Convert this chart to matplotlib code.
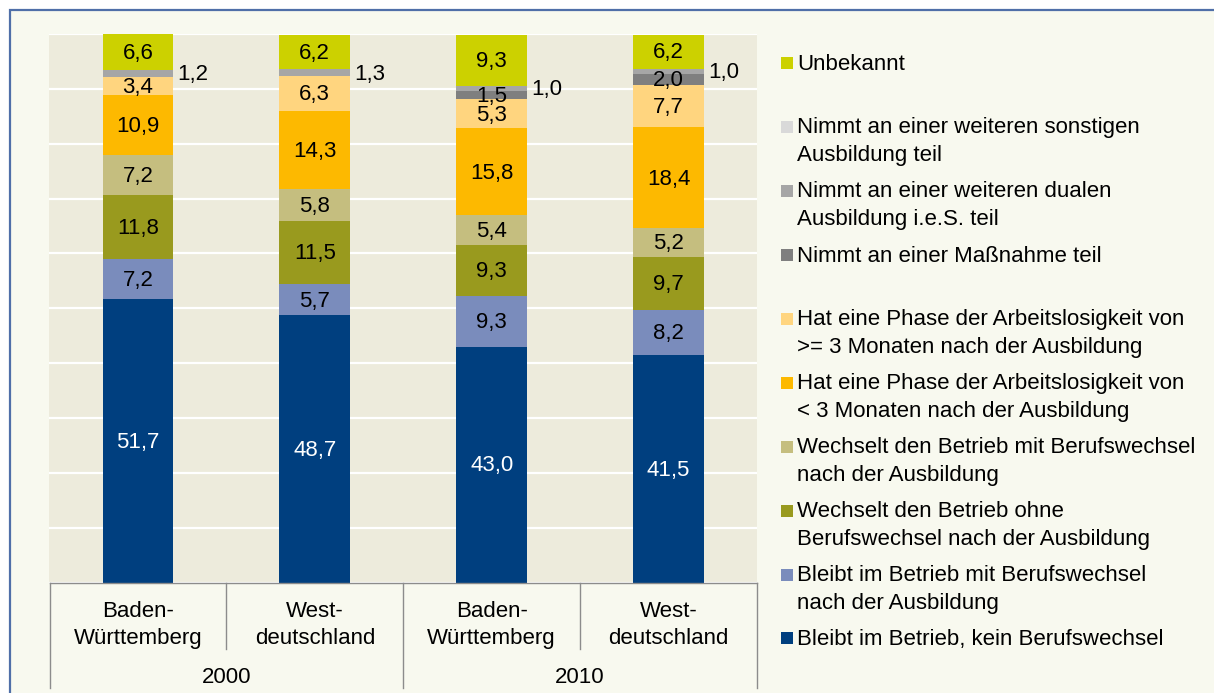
import matplotlib
matplotlib.use("Agg")
import matplotlib.pyplot as plt
from matplotlib.patches import Rectangle

plt.rcParams["font.family"] = ["Liberation Sans", "DejaVu Sans"]

# DATA
regions = ["Baden-\nWürttemberg", "West-\ndeutschland", "Baden-\nWürttemberg", "West-\ndeutschland"]
years = ["2000", "2010"]

bleibt_kein = [51.7, 48.7, 43.0, 41.5]
bleibt_mit = [7.2, 5.7, 9.3, 8.2]
wechselt_ohne = [11.8, 11.5, 9.3, 9.7]
wechselt_mit = [7.2, 5.8, 5.4, 5.2]
arbeitslos_kurz = [10.9, 14.3, 15.8, 18.4]
arbeitslos_lang = [3.4, 6.3, 5.3, 7.7]
massnahme = [0.0, 0.0, 1.5, 2.0]
dual = [1.2, 1.3, 1.0, 1.0]
sonstig = [0.0, 0.0, 0.0, 0.0]
unbekannt = [6.6, 6.2, 9.3, 6.2]

# stacked bottom -> top
stack = [bleibt_kein, bleibt_mit, wechselt_ohne, wechselt_mit, arbeitslos_kurz,
         arbeitslos_lang, massnahme, dual, sonstig, unbekannt]
colors = ["#003F7F", "#7A8CBC", "#999A1E", "#C5BE7F", "#FDB900",
          "#FFD57F", "#7F7F7F", "#A6A6A6", "#D9D9D9", "#CCD100"]
labels = [
    "Bleibt im Betrieb, kein Berufswechsel",
    "Bleibt im Betrieb mit Berufswechsel\nnach der Ausbildung",
    "Wechselt den Betrieb ohne\nBerufswechsel nach der Ausbildung",
    "Wechselt den Betrieb mit Berufswechsel\nnach der Ausbildung",
    "Hat eine Phase der Arbeitslosigkeit von\n< 3 Monaten nach der Ausbildung",
    "Hat eine Phase der Arbeitslosigkeit von\n>= 3 Monaten nach der Ausbildung",
    "Nimmt an einer Maßnahme teil",
    "Nimmt an einer weiteren dualen\nAusbildung i.e.S. teil",
    "Nimmt an einer weiteren sonstigen\nAusbildung teil",
    "Unbekannt",
]

W, H = 1214, 693


def fx(x):
    return x / W


def fy(y):
    return 1 - y / H


fig = plt.figure(figsize=(W / 100, H / 100), dpi=100, facecolor="white")

# outer frame
fig.patches.append(Rectangle((fx(10), -0.1), 1.2, fy(9.5) + 0.1, transform=fig.transFigure,
                             facecolor="#F8F9EF", edgecolor="#4F6FA8", linewidth=1.6, zorder=-5))

ax = fig.add_axes([fx(49.5), fy(582.5), (757 - 49.5) / W, (582.5 - 34) / H])
ax.set_zorder(2)
ax.set_facecolor("#EDEBDC")
ax.set_xlim(-0.5, 3.5)
ax.set_ylim(0, 100)
ax.set_yticks(range(0, 101, 10))
ax.yaxis.grid(True, color="white", linewidth=1.6)
ax.set_axisbelow(True)
ax.tick_params(left=False, labelleft=False, bottom=False, labelbottom=False)
for s in ["top", "left", "right"]:
    ax.spines[s].set_visible(False)
ax.spines["bottom"].set_color("#8C8C8C")
ax.spines["bottom"].set_linewidth(1.0)

x = list(range(len(regions)))
bottom = [0.0] * len(regions)
for vals, col, lab in zip(stack, colors, labels):
    ax.bar(x, vals, width=0.4, bottom=bottom, color=col, linewidth=0, zorder=2)
    for i, v in enumerate(vals):
        if v <= 0:
            continue
        txt = f"{v:.1f}".replace(".", ",")
        mid = bottom[i] + v / 2
        if vals is dual:
            ax.annotate(txt, (x[i] + 0.2, mid), xytext=(3, -1), textcoords="offset points",
                        ha="left", va="center", fontsize=16, color="black", zorder=3)
        else:
            tc = "white" if vals is bleibt_kein else "black"
            ax.annotate(txt, (x[i], mid), xytext=(0, -1), textcoords="offset points",
                        ha="center", va="center", fontsize=16, color=tc, zorder=3)
    bottom = [b + v for b, v in zip(bottom, vals)]

# category axis
tr = ax.get_xaxis_transform()
for xs, y0 in [(-0.5, -0.1923), (0.5, -0.1212), (1.5, -0.1923), (2.5, -0.1212), (3.5, -0.1923)]:
    ax.plot([xs, xs], [0, y0], color="#8C8C8C", linewidth=1.0, transform=tr, clip_on=False)
for i, r in enumerate(regions):
    ax.text(x[i], -0.078, r, transform=tr, ha="center", va="center", fontsize=16, linespacing=1.4)
for j, yr in enumerate(years):
    ax.text(2 * j + 0.5, -0.1725, yr, transform=tr, ha="center", va="center", fontsize=16)

# legend
leg_y = [638, 575, 511, 447, 383, 319, 255, 191, 127, 63]
for col, lab, yy in zip(colors, labels, leg_y):
    fig.patches.append(Rectangle((fx(781), fy(yy + 6)), 12 / W, 12 / H, transform=fig.transFigure,
                                 facecolor=col, edgecolor="none"))
    nlines = lab.count("\n") + 1
    fig.text(fx(797), fy(yy + 1.5 + 13 * (nlines - 1)), lab, ha="left", va="center",
             fontsize=16, linespacing=1.4)

fig.savefig("out.png", dpi=100, facecolor="white")
